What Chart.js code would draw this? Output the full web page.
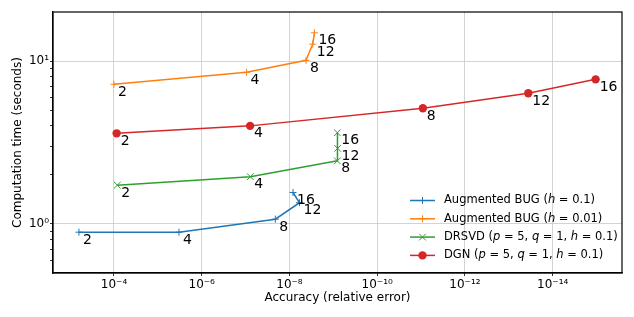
<!DOCTYPE html>
<html>
<head>
<meta charset="utf-8">
<script src="https://cdn.jsdelivr.net/npm/chart.js@4/dist/chart.umd.min.js"></script>
<style>
  html, body { margin: 0; padding: 0; background: #fff; }
</style>
</head>
<body>
<canvas id="chart" width="634" height="317"></canvas>
<script>
// Ranks annotated next to every point
const ranks = [2, 4, 8, 12, 16];

// Augmented BUG (h = 0.1)
const bugH01Err = [6.3e-4, 3.3e-6, 2.1e-8, 5.9e-9, 8.3e-9];
const bugH01Time = [0.89, 0.89, 1.07, 1.35, 1.56];
// Augmented BUG (h = 0.01)
const bugH001Err = [1.0e-4, 9.5e-8, 4.2e-9, 2.95e-9, 2.7e-9];
const bugH001Time = [7.2, 8.53, 10.1, 12.7, 14.9];
// DRSVD
const drsvdErr = [8.4e-5, 7.8e-8, 8.1e-10, 8.0e-10, 8.1e-10];
const drsvdTime = [1.73, 1.95, 2.44, 2.91, 3.63];
// DGN
const dgnErr = [8.7e-5, 7.9e-8, 9.1e-12, 3.6e-14, 1.05e-15];
const dgnTime = [3.6, 4.0, 5.13, 6.34, 7.72];

// legend texts, $...$ parts are drawn italic
const legendTexts = [
    'Augmented BUG ($h$ = 0.1)',
    'Augmented BUG ($h$ = 0.01)',
    'DRSVD ($p$ = 5, $q$ = 1, $h$ = 0.1)',
    'DGN ($p$ = 5, $q$ = 1, $h$ = 0.1)'
];

// axis ticks
const xTicks = [1e-4, 1e-6, 1e-8, 1e-10, 1e-12, 1e-14];
const yTicks = [0.6, 0.7, 0.8, 0.9, 1, 2, 3, 4, 5, 6, 7, 8, 9, 10];
const xRange = [Math.pow(10, -15.58), Math.pow(10, -2.61)];
const yRange = [0.5, 20];

const FONT = 'DejaVu Sans';
Chart.defaults.font.family = FONT;
Chart.defaults.color = '#000';

const sup = { '-': '\u207b', '0': '\u2070', '1': '\u00b9', '2': '\u00b2', '3': '\u00b3',
    '4': '\u2074', '5': '\u2075', '6': '\u2076', '7': '\u2077', '8': '\u2078', '9': '\u2079' };
function powLabel(v) {
    const e = String(Math.round(Math.log10(v)));
    return '10' + e.split('').map(c => sup[c]).join('');
}
function isMajor(v) {
    const l = Math.log10(v);
    return Math.abs(l - Math.round(l)) < 1e-9;
}

function pts(xs, ys) {
    return xs.map((x, i) => ({ x: x, y: ys[i] }));
}

const series = [
    { data: pts(bugH01Err, bugH01Time), color: '#1f77b4', style: 'cross', r: 3.5 },
    { data: pts(bugH001Err, bugH001Time), color: '#ff7f0e', style: 'cross', r: 3.5 },
    { data: pts(drsvdErr, drsvdTime), color: '#2ca02c', style: 'crossRot', r: 4.7 },
    { data: pts(dgnErr, dgnTime), color: '#d62728', style: 'circle', r: 4.2 }
];

const datasets = series.map((s, i) => ({
    label: legendTexts[i],
    data: s.data,
    borderColor: s.color,
    backgroundColor: s.color,
    borderWidth: 1.5,
    pointStyle: s.style,
    pointRadius: s.r,
    pointBorderWidth: s.style === 'circle' ? 0 : 1,
    pointBackgroundColor: s.color,
    pointBorderColor: s.color,
    tension: 0,
    fill: false
}));

// rank labels next to the points
const rankLabels = {
    id: 'rankLabels',
    afterDatasetsDraw(chart) {
        const ctx = chart.ctx;
        ctx.save();
        ctx.font = '14px "' + FONT + '"';
        ctx.fillStyle = '#000';
        ctx.textAlign = 'left';
        ctx.textBaseline = 'alphabetic';
        chart.data.datasets.forEach((ds, di) => {
            const meta = chart.getDatasetMeta(di);
            meta.data.forEach((el, i) => {
                ctx.fillText(String(ranks[i]), el.x + 4, el.y + 11.5);
            });
        });
        ctx.restore();
    }
};

// legend in the lower right of the plot, no frame
const innerLegend = {
    id: 'innerLegend',
    afterDatasetsDraw(chart) {
        const ctx = chart.ctx;
        const area = chart.chartArea;
        const x0 = area.right - 212;
        const y0 = area.bottom - 72.5;
        const rowH = 18.3;
        ctx.save();
        chart.data.datasets.forEach((ds, i) => {
            const y = y0 + i * rowH;
            ctx.strokeStyle = ds.borderColor;
            ctx.fillStyle = ds.borderColor;
            ctx.lineWidth = 1.5;
            ctx.beginPath();
            ctx.moveTo(x0, y);
            ctx.lineTo(x0 + 25, y);
            ctx.stroke();
            ctx.lineWidth = ds.pointBorderWidth || 1;
            Chart.helpers.drawPoint(ctx, {
                pointStyle: ds.pointStyle, radius: ds.pointRadius, rotation: 0,
                borderWidth: ds.pointBorderWidth
            }, x0 + 12.5, y);
            // text with italic parts
            let tx = x0 + 34;
            ctx.fillStyle = '#000';
            ctx.textBaseline = 'middle';
            ds.label.split('$').forEach((part, k) => {
                ctx.font = (k % 2 ? 'italic ' : '') + '11.5px "' + FONT + '"';
                ctx.fillText(part, tx, y);
                tx += ctx.measureText(part).width;
            });
        });
        ctx.restore();
    }
};

// black frame around the plot area
const frame = {
    id: 'frame',
    afterDraw(chart) {
        const a = chart.chartArea;
        const ctx = chart.ctx;
        ctx.save();
        ctx.strokeStyle = '#000';
        ctx.lineWidth = 1.2;
        ctx.strokeRect(a.left, a.top, a.right - a.left, a.bottom - a.top);
        ctx.restore();
    }
};

new Chart(document.getElementById('chart'), {
    type: 'line',
    data: { datasets },
    options: {
        responsive: false,
        animation: false,
        parsing: true,
        layout: { padding: { left: 0, top: 12, right: 12, bottom: 0 } },
        plugins: {
            legend: { display: false },
            tooltip: { enabled: false }
        },
        scales: {
            x: {
                type: 'logarithmic',
                reverse: true,
                min: xRange[0],
                max: xRange[1],
                afterBuildTicks: s => { s.ticks = xTicks.map(v => ({ value: v })); },
                afterFit: s => { s.height = 44; },
                ticks: {
                    callback: v => powLabel(v),
                    font: { size: 12 },
                    color: '#000',
                    autoSkip: false,
                    maxRotation: 0,
                    padding: 2
                },
                grid: { color: '#c8c8c8', lineWidth: 0.8, tickLength: 3, tickColor: '#000' },
                border: { display: true, color: '#000', width: 1.2 },
                title: {
                    display: true,
                    text: 'Accuracy (relative error)',
                    font: { size: 12 },
                    color: '#000',
                    padding: { top: 0, bottom: 12 }
                }
            },
            y: {
                type: 'logarithmic',
                min: yRange[0],
                max: yRange[1],
                afterBuildTicks: s => { s.ticks = yTicks.map(v => ({ value: v })); },
                afterFit: s => { s.width = 53; },
                ticks: {
                    callback: v => isMajor(v) ? powLabel(v) : '',
                    font: { size: 12 },
                    color: '#000',
                    autoSkip: false,
                    padding: 1
                },
                grid: {
                    color: c => (c.tick && isMajor(c.tick.value)) ? '#c8c8c8' : 'rgba(0,0,0,0)',
                    lineWidth: 0.8,
                    tickLength: 3,
                    tickColor: '#000'
                },
                border: { display: true, color: '#000', width: 1.2 },
                title: {
                    display: true,
                    text: 'Computation time (seconds)',
                    font: { size: 12 },
                    color: '#000',
                    padding: { top: 11, bottom: 0 }
                }
            }
        }
    },
    plugins: [rankLabels, innerLegend, frame]
});
</script>
</body>
</html>
